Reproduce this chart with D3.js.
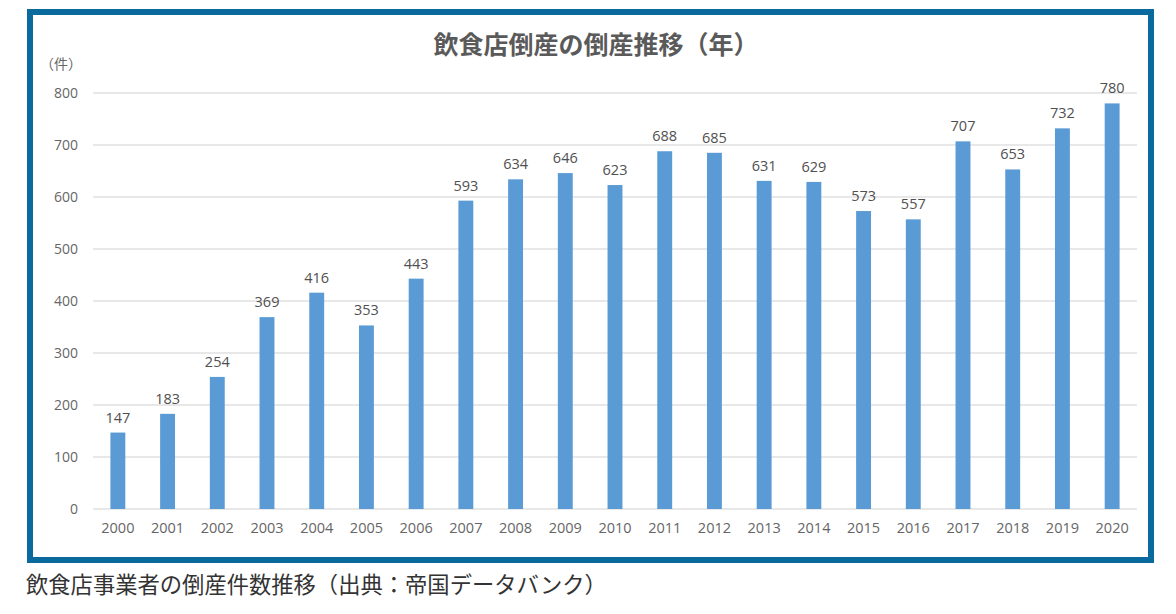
<!DOCTYPE html>
<html><head><meta charset="utf-8">
<script src="https://cdn.jsdelivr.net/npm/d3@7/dist/d3.min.js"></script>
<style>body{margin:0;background:#fff;}svg{display:block;}</style>
</head><body><svg id="c" width="1176" height="614"></svg>
<script>
const years = ["2000","2001","2002","2003","2004","2005","2006","2007","2008","2009","2010","2011","2012","2013","2014","2015","2016","2017","2018","2019","2020"];
const counts = [147,183,254,369,416,353,443,593,634,646,623,688,685,631,629,573,557,707,653,732,780];
const yTicks = [0,100,200,300,400,500,600,700,800];
const title = "飲食店倒産の倒産推移（年）";
const unitLabel = "（件）";
const caption = "飲食店事業者の倒産件数推移（出典：帝国データバンク）";

const svg = d3.select("#c");
const font = "'Noto Sans CJK JP', 'Noto Sans', sans-serif";
const latin = "'Open Sans', 'Noto Sans', sans-serif";

// frame
svg.append("rect").attr("x",30).attr("y",12).attr("width",1121).attr("height",548)
  .attr("fill","#fff").attr("stroke","#0b6a9d").attr("stroke-width",6);

const x = d3.scaleBand().domain(years).range([93,1137]).paddingInner(0.7).paddingOuter(0.35);
const y = d3.scaleLinear().domain([0,800]).range([509,93]);

// gridlines
svg.append("g").selectAll("line").data(yTicks).join("line")
  .attr("x1",93).attr("x2",1137).attr("y1",d=>y(d)).attr("y2",d=>y(d))
  .attr("stroke","#e0e0e0").attr("stroke-width",1.5);

// y axis labels
const yAxis = d3.axisLeft(y).tickValues(yTicks).tickSize(0).tickPadding(0);
const gy = svg.append("g").attr("transform","translate(78,0)").call(yAxis);
gy.select(".domain").remove();
gy.selectAll("text").attr("font-family",latin).attr("font-size",14).attr("fill","#666");

// x axis labels
const xAxis = d3.axisBottom(x).tickSize(0).tickPadding(0);
const gx = svg.append("g").attr("transform","translate(0,523)").call(xAxis);
gx.select(".domain").remove();
gx.selectAll("text").attr("font-family",latin).attr("font-size",14.5).attr("fill","#666");

// bars
svg.append("g").selectAll("rect").data(counts).join("rect")
  .attr("x",(d,i)=>x(years[i])).attr("width",x.bandwidth())
  .attr("y",d=>y(d)).attr("height",d=>y(0)-y(d)).attr("fill","#5b9bd5");

// value labels
svg.append("g").selectAll("text").data(counts).join("text")
  .attr("x",(d,i)=>x(years[i])+x.bandwidth()/2).attr("y",d=>y(d)-10)
  .attr("text-anchor","middle").attr("font-family",latin).attr("font-size",14.5)
  .attr("fill","#505050").text(d=>d);

// title
svg.append("text").attr("x",596).attr("y",54).attr("text-anchor","middle")
  .attr("font-family",font).attr("font-weight","bold").attr("font-size",25)
  .attr("fill","#5a5a5a").text(title);

// unit
svg.append("text").attr("x",61).attr("y",69).attr("text-anchor","middle")
  .attr("font-family",font).attr("font-size",14).attr("fill","#666").text(unitLabel);

// caption
svg.append("text").attr("x",26).attr("y",593)
  .attr("font-family",font).attr("font-size",22.3).attr("fill","#333").text(caption);
</script></body></html>
